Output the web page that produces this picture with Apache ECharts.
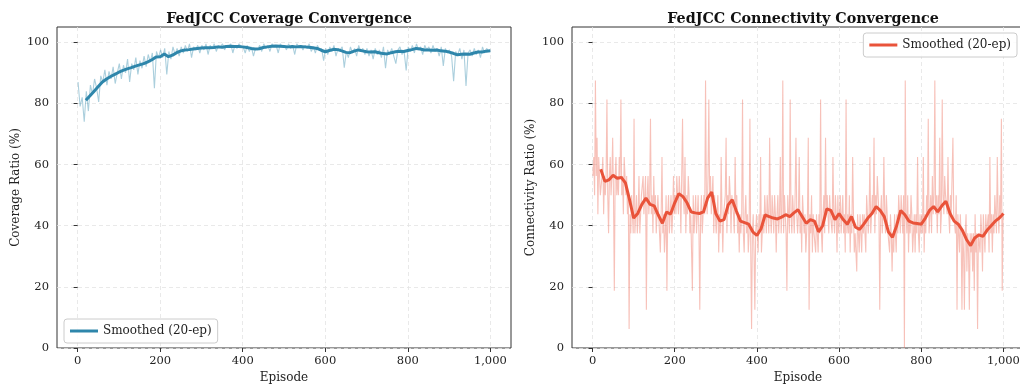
<!DOCTYPE html>
<html>
<head>
<meta charset="utf-8">
<script src="https://cdn.jsdelivr.net/npm/echarts@6/dist/echarts.min.js"></script>
<style>
  html, body { margin: 0; padding: 0; background: #fff; }
  #chart { width: 1020px; height: 386px; }
</style>
</head>
<body>
<div id="chart"></div>
<script>
// raw coverage, one value every 5 episodes (ep 1, 6, 11, ... 996)
const coverageStep = 5;
const coverageRaw = [
  87.0, 79.0, 82.0, 74.0, 84.0, 77.5, 86.0, 83.0, 88.0, 85.0,
  80.5, 89.0, 87.0, 91.0, 86.0, 90.5, 88.0, 92.0, 86.5, 90.0,
  93.0, 88.0, 92.5, 90.0, 94.5, 87.0, 93.0, 91.0, 95.0, 89.5,
  94.0, 91.5, 95.5, 92.0, 96.0, 93.5, 96.5, 85.0, 97.0, 95.0,
  97.5, 95.0, 98.0, 89.5, 97.0, 94.5, 98.5, 96.0, 98.0, 95.5,
  98.5, 96.5, 99.0, 97.0, 99.5, 95.0, 98.5, 97.5, 99.0, 96.5,
  99.0, 97.5, 99.5, 96.0, 99.0, 98.0, 99.5, 97.0, 99.0, 98.5,
  99.5, 97.5, 99.0, 98.5, 99.5, 96.5, 99.0, 98.0, 99.5, 98.5,
  98.5, 96.5, 99.0, 97.0, 98.5, 95.5, 98.0, 97.5, 99.0, 97.0,
  99.5, 98.0, 99.0, 97.0, 99.5, 98.5, 99.0, 96.5, 99.5, 98.5,
  99.0, 97.5, 99.5, 98.0, 99.0, 96.0, 99.5, 98.5, 99.0, 97.5,
  99.0, 98.0, 99.5, 97.0, 98.5, 96.5, 99.0, 97.5, 98.0, 94.0,
  98.0, 96.0, 98.5, 97.0, 99.0, 95.5, 98.0, 97.5, 98.5, 91.7,
  97.0, 95.0, 98.5, 96.5, 98.0, 95.5, 99.0, 97.0, 98.0, 96.0,
  98.0, 95.5, 97.5, 94.5, 98.0, 96.0, 97.5, 95.0, 98.5, 91.5,
  97.5, 96.0, 98.0, 95.5, 93.0, 97.5, 98.5, 96.0, 97.0, 90.8,
  98.5, 97.0, 99.0, 96.5, 99.5, 97.5, 98.5, 96.0, 99.0, 97.5,
  98.5, 96.5, 99.0, 97.0, 98.0, 95.5, 98.5, 92.3, 98.0, 96.5,
  97.5, 95.5, 87.3, 97.0, 96.0, 98.0, 94.5, 97.5, 85.7, 96.5,
  97.5, 95.5, 98.0, 96.0, 97.5, 95.0, 98.5, 96.5, 98.0, 97.0
];
// raw connectivity as connected UAVs out of 16, every 2 episodes (ep 1, 3, ... 999)
const connStep = 2;
const connNodeTotal = 16;
const connRawNodes = [
  9, 10, 8, 14, 9, 11, 7, 10, 9, 8,
  8, 9, 10, 7, 9, 8, 9, 13, 8, 6,
  9, 10, 8, 9, 11, 8, 3, 9, 10, 8,
  9, 8, 10, 9, 13, 8, 9, 7, 10, 9,
  8, 9, 7, 8, 1, 7, 6, 8, 7, 6,
  12, 6, 7, 8, 6, 7, 9, 6, 7, 8,
  8, 9, 7, 8, 9, 2, 8, 9, 7, 8,
  12, 7, 8, 6, 9, 7, 8, 6, 7, 8,
  7, 6, 5, 7, 10, 6, 7, 5, 6, 8,
  3, 7, 8, 6, 7, 8, 6, 7, 9, 7,
  8, 7, 9, 8, 7, 9, 8, 6, 9, 12,
  8, 7, 10, 6, 8, 7, 9, 8, 6, 7,
  7, 3, 8, 6, 7, 8, 6, 7, 8, 6,
  2, 7, 8, 6, 7, 8, 7, 14, 8, 7,
  9, 13, 8, 9, 7, 8, 9, 6, 8, 7,
  6, 7, 8, 5, 7, 6, 10, 7, 5, 7,
  7, 8, 11, 6, 8, 7, 9, 8, 6, 8,
  8, 7, 6, 10, 7, 8, 6, 7, 5, 7,
  6, 7, 13, 6, 5, 7, 8, 6, 7, 5,
  6, 12, 5, 1, 6, 7, 5, 2, 6, 7,
  6, 5, 7, 6, 10, 5, 6, 7, 6, 8,
  7, 6, 8, 7, 6, 11, 7, 6, 8, 7,
  6, 8, 7, 5, 7, 8, 6, 7, 10, 6,
  7, 14, 6, 8, 7, 6, 3, 8, 7, 6,
  13, 7, 6, 8, 7, 6, 8, 11, 7, 6,
  7, 10, 6, 7, 5, 8, 7, 6, 7, 5,
  6, 7, 11, 2, 7, 6, 8, 5, 7, 6,
  6, 5, 7, 6, 5, 7, 6, 13, 6, 5,
  7, 8, 6, 11, 7, 8, 7, 6, 8, 7,
  7, 6, 10, 7, 6, 8, 7, 5, 8, 6,
  7, 8, 6, 7, 8, 6, 7, 5, 13, 6,
  7, 6, 8, 5, 7, 6, 10, 7, 5, 6,
  6, 4, 7, 6, 5, 7, 6, 5, 7, 6,
  7, 6, 5, 8, 7, 6, 7, 10, 6, 7,
  8, 7, 11, 6, 8, 7, 9, 8, 7, 2,
  7, 8, 6, 7, 10, 7, 6, 8, 7, 6,
  6, 5, 7, 6, 4, 6, 5, 7, 6, 5,
  7, 6, 8, 7, 6, 8, 7, 6, 8, 0,
  14, 7, 6, 8, 5, 7, 6, 8, 7, 5,
  6, 7, 5, 7, 6, 10, 6, 5, 7, 6,
  7, 6, 10, 5, 7, 6, 8, 7, 12, 6,
  7, 8, 6, 9, 7, 8, 14, 7, 8, 6,
  8, 7, 11, 6, 7, 13, 8, 7, 9, 8,
  8, 7, 10, 7, 6, 8, 7, 9, 11, 7,
  7, 6, 8, 2, 7, 6, 5, 7, 6, 2,
  6, 5, 2, 6, 7, 4, 6, 5, 2, 6,
  5, 6, 4, 6, 3, 7, 5, 6, 1, 6,
  6, 5, 7, 6, 4, 7, 6, 5, 7, 6,
  6, 7, 5, 10, 6, 7, 5, 7, 6, 8,
  7, 6, 10, 7, 6, 8, 7, 12, 3, 7
];

// 20-episode moving average, read every 10 episodes (ep 20 ... 1000)
const smoothStart = 20;
const smoothStep = 10;
const coverageSmooth = [
  81.0, 82.5, 84.0, 85.5, 87.0, 88.0, 88.8, 89.5, 90.2, 90.8,
  91.3, 91.7, 92.2, 92.6, 93.0, 93.6, 94.3, 95.2, 95.3, 96.2,
  95.3, 95.8, 96.6, 97.2, 97.5, 97.6, 97.8, 98.0, 98.1, 98.2,
  98.2, 98.3, 98.5, 98.4, 98.6, 98.7, 98.6, 98.6, 98.5, 98.3,
  98.0, 97.8, 97.9, 98.3, 98.5, 98.7, 98.8, 98.7, 98.6, 98.5,
  98.6, 98.5, 98.6, 98.5, 98.4, 98.2, 98.0, 97.4, 96.9, 97.3,
  97.7, 97.6, 97.2, 96.7, 96.6, 97.1, 97.5, 97.2, 96.9, 96.8,
  96.9, 96.6, 96.3, 96.2, 96.6, 96.9, 97.1, 97.0, 97.3, 97.6,
  98.0, 97.8, 97.5, 97.5, 97.4, 97.5, 97.2, 97.1, 96.8, 96.4,
  95.9, 96.1, 96.2, 96.1, 96.5, 96.8, 96.8, 97.1, 97.2
];
const connSmooth = [
  58.5, 54.5, 55.0, 56.5, 55.5, 55.8, 54.0, 48.5, 42.5, 44.0,
  47.0, 49.0, 47.0, 46.5, 43.5, 40.8, 44.5, 43.8, 47.5, 50.5,
  49.5, 47.5, 44.5, 44.2, 44.0, 44.5, 49.0, 51.0, 44.0, 41.5,
  42.0, 46.8, 48.5, 44.8, 41.5, 41.0, 40.5, 38.0, 36.8, 39.0,
  43.5, 43.0, 42.5, 42.2, 42.8, 43.6, 43.0, 44.2, 45.2, 43.0,
  40.8, 42.0, 41.5, 38.0, 40.0, 45.5, 45.0, 42.0, 44.0, 42.0,
  40.5, 43.0, 39.5, 38.8, 40.5, 42.5, 44.0, 46.3, 45.0, 43.0,
  38.0, 36.2, 40.0, 45.0, 43.6, 41.5, 40.9, 40.7, 40.5, 42.5,
  45.0, 46.3, 44.5, 46.5, 48.0, 44.0, 41.5, 40.5, 38.5, 35.5,
  33.5, 36.0, 37.0, 36.5, 38.5, 40.0, 41.5, 42.5, 44.0
];

const xTicks = [0, 200, 400, 600, 800, 1000];
const yTicks = [0, 20, 40, 60, 80, 100];

const FONT = "DejaVu Serif";
const blue = "#2E86AB";
const red = "#E9533A";

function rawPairs(arr, step, toPercent) {
  return arr.map((v, i) => [1 + i * step, toPercent ? (v / connNodeTotal) * 100 : v]);
}
function smoothPairs(arr) {
  return arr.map((v, i) => [smoothStart + i * smoothStep, v]);
}

function makeX(gridIndex) {
  return {
    type: "value",
    gridIndex: gridIndex,
    min: -50,
    max: 1050,
    name: "Episode",
    nameLocation: "middle",
    nameGap: 24,
    nameTextStyle: { fontFamily: FONT, fontSize: 12, color: "#222" },
    axisLine: { show: false },
    axisTick: { show: true, length: 4, customValues: xTicks, lineStyle: { color: "#333" } },
    axisLabel: { customValues: xTicks, fontFamily: FONT, fontSize: 11.5, color: "#222", margin: 7 },
    splitLine: { show: true, lineStyle: { color: "#e3e3e3", type: [4, 3], width: 0.8 } },
  };
}
function makeY(gridIndex, name) {
  return {
    type: "value",
    gridIndex: gridIndex,
    min: 0,
    max: 105,
    name: name,
    nameLocation: "middle",
    nameGap: 35,
    nameTextStyle: { fontFamily: FONT, fontSize: 12, color: "#222" },
    axisLine: { show: false },
    axisTick: { show: true, length: 4, customValues: yTicks, lineStyle: { color: "#333" } },
    axisLabel: { customValues: yTicks, fontFamily: FONT, fontSize: 11.5, color: "#222", margin: 8 },
    splitLine: { show: true, lineStyle: { color: "#e3e3e3", type: [4, 3], width: 0.8 } },
  };
}
function makeLegend(seriesName, pos) {
  return Object.assign({
    data: [seriesName],
    formatter: () => "Smoothed (20-ep)",
    icon: "rect",
    itemWidth: 28,
    itemHeight: 3,
    padding: [6, 6],
    borderColor: "#cccccc",
    borderWidth: 1,
    borderRadius: 3,
    backgroundColor: "rgba(255,255,255,0.85)",
    textStyle: { fontFamily: FONT, fontSize: 12, color: "#222" },
  }, pos);
}

const chart = echarts.init(document.getElementById("chart"), null, { renderer: "canvas" });

const option = {
  animation: false,
  backgroundColor: "#fff",
  title: [
    {
      text: "FedJCC Coverage Convergence",
      left: 284, top: 7, textAlign: "center",
      textStyle: { fontFamily: FONT, fontSize: 14.3, fontWeight: "bold", color: "#111" },
    },
    {
      text: "FedJCC Connectivity Convergence",
      left: 798, top: 7, textAlign: "center",
      textStyle: { fontFamily: FONT, fontSize: 14.3, fontWeight: "bold", color: "#111" },
    },
  ],
  grid: [
    { left: 57, top: 27, width: 454, height: 321, show: true, borderColor: "#333", borderWidth: 1, outerBoundsMode: "none" },
    { left: 572, top: 27, width: 452, height: 321, show: true, borderColor: "#333", borderWidth: 1, outerBoundsMode: "none" },
  ],
  xAxis: [makeX(0), makeX(1)],
  yAxis: [makeY(0, "Coverage Ratio (%)"), makeY(1, "Connectivity Ratio (%)")],
  legend: [
    makeLegend("coverage", { left: 64, top: 319 }),
    makeLegend("connectivity", { right: 3, top: 33 }),
  ],
  series: [
    {
      name: "coverageRaw", type: "line", xAxisIndex: 0, yAxisIndex: 0,
      data: rawPairs(coverageRaw, coverageStep, false), symbol: "none", silent: true,
      lineStyle: { width: 1.1, color: "rgba(46,134,171,0.4)" },
    },
    {
      name: "coverage", type: "line", xAxisIndex: 0, yAxisIndex: 0,
      data: smoothPairs(coverageSmooth), symbol: "none", color: blue,
      lineStyle: { width: 3, color: blue },
    },
    {
      name: "connRaw", type: "line", xAxisIndex: 1, yAxisIndex: 1,
      data: rawPairs(connRawNodes, connStep, true), symbol: "none", silent: true,
      lineStyle: { width: 1.1, color: "rgba(236,100,80,0.4)" },
    },
    {
      name: "connectivity", type: "line", xAxisIndex: 1, yAxisIndex: 1,
      data: smoothPairs(connSmooth), symbol: "none", color: red,
      lineStyle: { width: 3, color: red },
    },
  ],
};

chart.setOption(option);
</script>
</body>
</html>
